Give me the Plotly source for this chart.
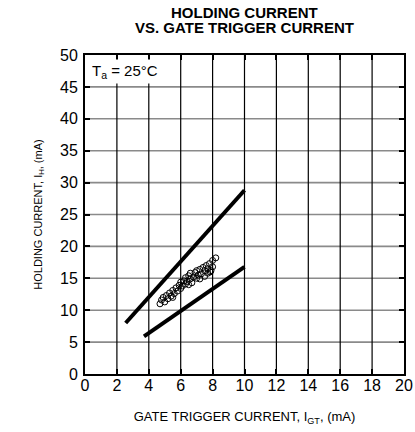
import plotly.graph_objects as go

# Grenselinjer (typ. min/maks) for holdestrøm mot tennstrøm
upper_x = [2.55, 10.0]
upper_y = [8.0, 28.8]
lower_x = [3.7, 10.0]
lower_y = [5.9, 16.8]

# Målte punkter
pts_x = [4.7, 4.8, 4.9, 5.0, 5.1, 5.2, 5.3, 5.4, 5.5, 5.6, 5.7, 5.8, 5.9, 6.0,
         6.0, 6.1, 6.2, 6.3, 6.3, 6.4, 6.5, 6.6, 6.6, 6.7, 6.8, 6.9, 7.0, 7.0,
         7.1, 7.2, 7.2, 7.3, 7.4, 7.5, 7.5, 7.6, 7.7, 7.7, 7.8, 7.9, 8.0, 8.0,
         8.2, 7.85, 6.5, 5.5]
pts_y = [11.0, 11.6, 12.0, 11.3, 12.3, 11.8, 12.7, 12.2, 13.1, 12.6, 13.5, 13.0,
         13.9, 13.4, 14.4, 13.8, 14.6, 14.1, 15.1, 14.5, 15.4, 14.9, 15.8, 14.3,
         15.2, 15.9, 15.0, 16.2, 15.5, 14.9, 16.4, 15.7, 16.7, 15.3, 16.2, 17.0,
         15.8, 16.5, 17.3, 16.2, 16.8, 17.8, 18.2, 16.0, 14.0, 12.0]

x_ticks = [0, 2, 4, 6, 8, 10, 12, 14, 16, 18, 20]
y_ticks = [0, 5, 10, 15, 20, 25, 30, 35, 40, 45, 50]

fig = go.Figure()

# Rutenett: grå vannrette linjer og svarte loddrette linjer
gx, gy = [], []
for yv in y_ticks[1:-1]:
    gx += [x_ticks[0], x_ticks[-1], None]
    gy += [yv, yv, None]
fig.add_trace(go.Scatter(x=gx, y=gy, mode="lines",
                         line=dict(color="#8a8a8a", width=1.6),
                         showlegend=False, hoverinfo="skip"))
vx, vy = [], []
for xv in x_ticks[1:-1]:
    vx += [xv, xv, None]
    vy += [y_ticks[0], y_ticks[-1], None]
fig.add_trace(go.Scatter(x=vx, y=vy, mode="lines",
                         line=dict(color="#000000", width=1.2),
                         showlegend=False, hoverinfo="skip"))

for lx, ly in [(upper_x, upper_y), (lower_x, lower_y)]:
    fig.add_trace(go.Scatter(x=lx, y=ly, mode="lines",
                             line=dict(color="black", width=4),
                             showlegend=False, hoverinfo="skip"))

fig.add_trace(go.Scatter(
    x=pts_x, y=pts_y, mode="markers",
    marker=dict(symbol="circle-open", size=6, color="black",
                line=dict(width=1, color="black")),
    showlegend=False, hoverinfo="skip"
))

# Temperaturtekst med hvit bakgrunn
fig.add_annotation(
    x=0.0125, y=0.948, xref="paper", yref="paper",
    xanchor="left", yanchor="middle",
    text="T<sub>a</sub> = 25°C", showarrow=False,
    font=dict(size=15, color="black"),
    bgcolor="white", borderpad=2
)

# Tittel i to linjer
for txt, ypx in [("HOLDING CURRENT", 12.5), ("VS. GATE TRIGGER CURRENT", 27.5)]:
    fig.add_annotation(
        x=0.5, y=(374 - ypx) / 319, xref="paper", yref="paper",
        xanchor="center", yanchor="middle", text=f"<b>{txt}</b>",
        showarrow=False, font=dict(size=15, color="black")
    )

fig.update_layout(
    width=415, height=432,
    margin=dict(l=85, r=11, t=55, b=58, autoexpand=False),
    plot_bgcolor="white", paper_bgcolor="white",
    font=dict(family="Liberation Sans, Arial, sans-serif", color="black"),
    xaxis=dict(
        range=[0, 20], tickvals=x_ticks, showgrid=False, zeroline=False,
        showline=True, linecolor="black", linewidth=2, mirror="ticks",
        ticks="inside", ticklen=5, tickcolor="black", tickwidth=1.5,
        tickfont=dict(size=16), automargin=False, ticklabelstandoff=-4,
        title=dict(text="GATE TRIGGER CURRENT, I<sub>GT</sub>, (mA)",
                   font=dict(size=13), standoff=19)
    ),
    yaxis=dict(
        range=[0, 50], tickvals=y_ticks, showgrid=False, zeroline=False,
        showline=True, linecolor="black", linewidth=2, mirror="ticks",
        ticks="inside", ticklen=5, tickcolor="black", tickwidth=1.5,
        tickfont=dict(size=16), automargin=False, ticklabelstandoff=2,
        title=dict(text="HOLDING CURRENT, I<sub>H</sub>, (mA)",
                   font=dict(size=11), standoff=15)
    ),
)

# fjern standardmargen i body så figuren fyller vinduet
fig.write_html("out.html", config={"displayModeBar": False},
               post_script="document.body.style.margin='0';")
